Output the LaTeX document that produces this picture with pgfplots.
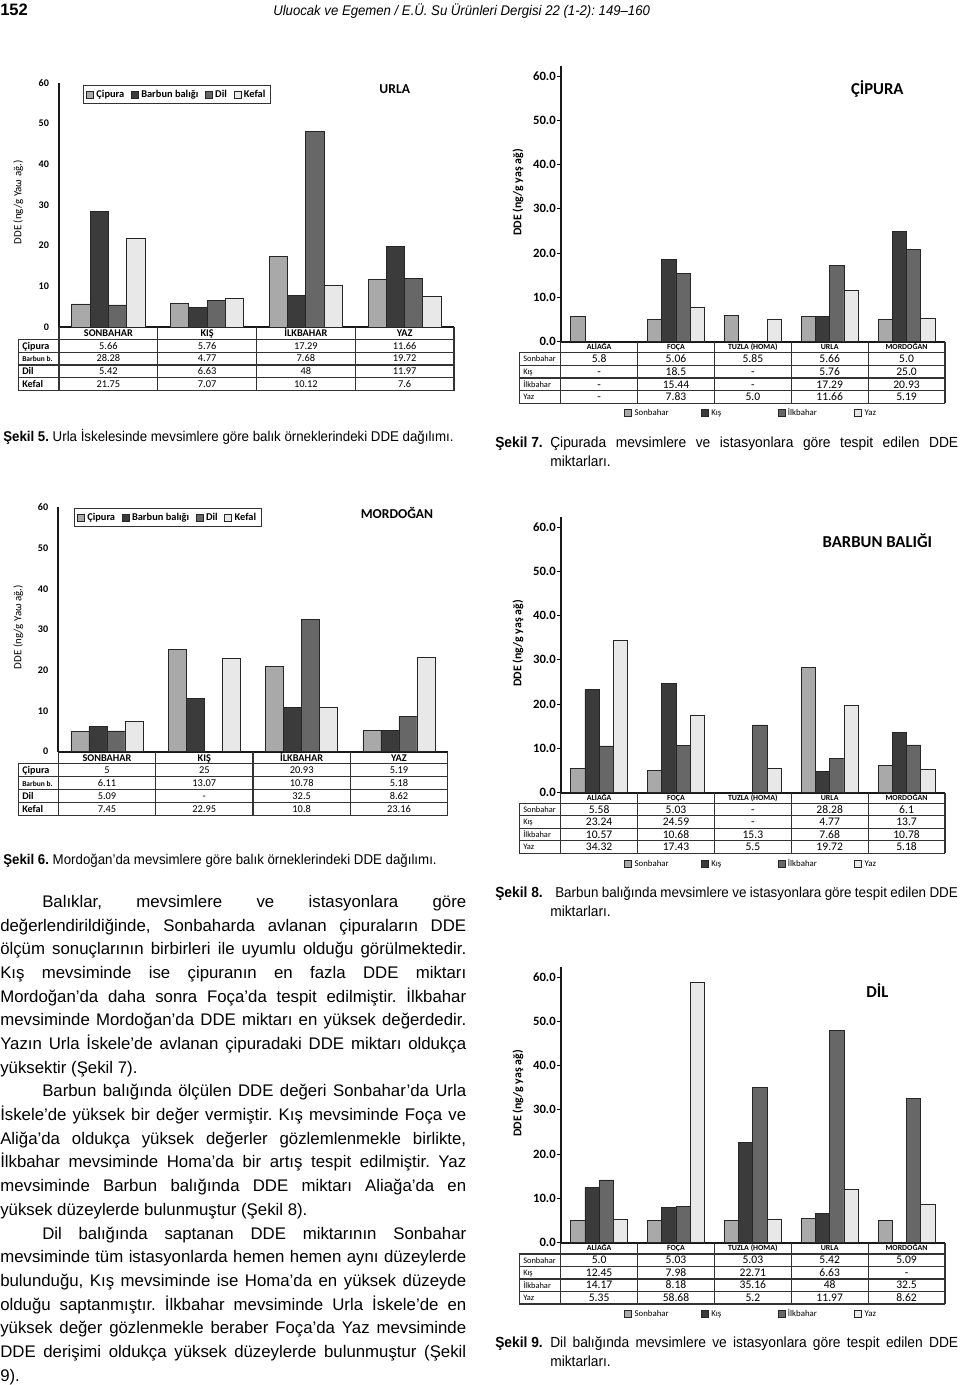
\documentclass[border=0pt]{standalone}
\usepackage{pgfplots}
\usepackage{pgfplotstable}
\pgfplotsset{compat=1.18}
\usepackage{fontspec}
\setmainfont{Liberation Sans}
\newfontfamily\bodyfont{Liberation Sans}
\newfontfamily\capfont[FakeStretch=0.94]{Liberation Sans}
\newfontfamily\cf{Carlito}
\newcommand\fs[1]{\fontsize{#1}{#1}\selectfont}
\frenchspacing
\definecolor{cA}{HTML}{A9A9A9}
\definecolor{cB}{HTML}{3B3B3B}
\definecolor{cC}{HTML}{676767}
\definecolor{cD}{HTML}{E8E8E8}
\tikzset{tbl/.style={draw=black!80, line width=0.8pt}}

% URLA (seasons x fish)
\pgfplotstableread{
x A B C D
0 5.66 28.28 5.42 21.75
1 5.76 4.77 6.63 7.07
2 17.29 7.68 48 10.12
3 11.66 19.72 11.97 7.6
}\urla
% MORDOGAN
\pgfplotstableread{
x A B C D
0 5 6.11 5.09 7.45
1 25 13.07 nan 22.95
2 20.93 10.78 32.5 10.8
3 5.19 5.18 8.62 23.16
}\mord
% CIPURA (stations x seasons)
\pgfplotstableread{
x A B C D
0 5.8 nan nan nan
1 5.06 18.5 15.44 7.83
2 5.85 nan nan 5.0
3 5.66 5.76 17.29 11.66
4 5.0 25.0 20.93 5.19
}\cip
% BARBUN
\pgfplotstableread{
x A B C D
0 5.58 23.24 10.57 34.32
1 5.03 24.59 10.68 17.43
2 nan nan 15.3 5.5
3 28.28 4.77 7.68 19.72
4 6.1 13.7 10.78 5.18
}\barb
% DIL
\pgfplotstableread{
x A B C D
0 5.0 12.45 14.17 5.35
1 5.03 7.98 8.18 58.68
2 5.03 22.71 35.16 5.2
3 5.42 6.63 48 11.97
4 5.09 nan 32.5 8.62
}\dil

\newcommand\lgw[1]{\makebox[47.8pt][l]{#1}}

\pgfplotsset{
  /pgf/number format/assume math mode=true,
  dde/.style={
    ybar=0pt, bar width=0.185, ymin=0,
    scale only axis, clip=false,
    axis x line=bottom, axis y line=left,
    axis line style={line width=1.4pt, black!90, -},
    xtick style={draw=none},
    ytick={0,10,...,60},
    cycle list={{fill=cA,draw=black!85,line width=0.6pt},
                {fill=cB,draw=black!85,line width=0.6pt},
                {fill=cC,draw=black!85,line width=0.6pt},
                {fill=cD,draw=black!85,line width=0.6pt}},
    legend image code/.code={\draw[#1,line width=0.5pt] (0pt,-2.6pt) rectangle (5.2pt,2.6pt);},
    every axis title shift=0pt,
    title style={anchor=center, yshift=0pt},
  },
  ddeL/.style={
    xmin=-0.5, xmax=3.5, ymax=60, xtick={0,1,2,3},
    xticklabels={SONBAHAR,KIŞ,İLKBAHAR,YAZ},
    xticklabel style={font=\cf\bfseries\fs{7.7}, anchor=base, yshift=-5.0pt},
    ytick style={draw=none},
    yticklabel style={font=\cf\bfseries\fs{7.6}, inner sep=0pt, xshift=-5.2pt},
    ylabel={DDE (ng/g Yaω ağ.)},
    ylabel style={font=\cf\fs{8.2}, anchor=center},
    legend columns=4,
    legend style={anchor=north west, draw=black!80, line width=0.7pt,
      font=\cf\bfseries\fs{7.8}, inner xsep=2pt, inner ysep=1.3pt,
      /tikz/every even column/.append style={column sep=3pt}},
    legend cell align=left,
    title style={font=\cf\bfseries\fs{10.2}},
  },
  ddeR/.style={
    width=288.2pt, height=206.9pt,
    xmin=-0.5, xmax=4.5, ymax=62.3, xtick={0,1,2,3,4},
    xticklabels={ALİAĞA,FOÇA,TUZLA (HOMA),URLA,MORDOĞAN},
    xticklabel style={font=\cf\bfseries\fs{5.9}, anchor=base, yshift=-3.0pt},
    tick align=outside, major tick length=3pt,
    ytick style={black, line width=0.7pt},
    yticklabel style={font=\cf\bfseries\fs{9.5}, inner sep=0.5pt,
      /pgf/number format/.cd, fixed, fixed zerofill, precision=1},
    ylabel={DDE (ng/g yaş ağ)},
    ylabel style={font=\cf\bfseries\fs{8.9}, anchor=center,
      at={(axis description cs:-0.111,0.541)}},
    legend columns=4,
    legend style={at={(axis description cs:0.165,-0.232)}, anchor=north west,
      draw=none, fill=none, font=\cf\fs{6.6}, inner sep=0pt},
    legend cell align=left,
    title style={font=\cf\bfseries\fs{12.5}, at={(axis description cs:0.824,0.915)}},
  },
}

\newcommand\grid[7]{% L A R n y0 h b
  \pgfmathsetmacro\cw{(#3-#2)/#4}
  \pgfmathsetmacro\rh{(#7-#6)/4}
  \pgfmathtruncatemacro\nm{#4-1}
  \draw[tbl] (#1,#6) -- (#3,#6) (#1,#7) -- (#3,#7) (#1,#6) -- (#1,#7);
  \draw[tbl] (#2,#5) -- (#2,#7) (#3,#5) -- (#3,#7);
  \foreach \k in {1,...,\nm}{\draw[tbl] ({#2+\k*\cw},#5) -- ({#2+\k*\cw},#7);}
  \foreach \k in {1,2,3}{\draw[tbl] (#1,{#6+\k*\rh}) -- (#3,{#6+\k*\rh});}
}
\newcommand\cells[8]{% A R n h b font baseline-offset rows
  \pgfmathsetmacro\cw{(#2-#1)/#3}
  \pgfmathsetmacro\rh{(#5-#4)/4}
  \foreach \row [count=\j] in {#8}{
    \foreach \v [count=\i] in \row {
      \node[anchor=base, inner sep=0pt, font=#6] at ({#1+(\i-0.5)*\cw},{#4+(\j-0.5)*\rh+#7}) {\v};
    }
  }
}
\newcommand\rowlabels[6]{% x h b font offset {labels}
  \pgfmathsetmacro\rh{(#3-#2)/4}
  \foreach \t [count=\j] in {#6}{
    \node[anchor=base west, inner sep=0pt, font=#4] at (#1,{#2+(\j-0.5)*\rh+#5}) {\t};
  }
}
\newcommand\jline[4]{\node[anchor=base west, inner sep=0pt, font=\bodyfont\fontsize{12.6}{15}\selectfont] at (#1,{907.5+23.68*#2}) {\makebox[#3][s]{#4}};}
\newcommand\lline[3]{\node[anchor=base west, inner sep=0pt, font=\bodyfont\fontsize{12.6}{15}\selectfont] at (#1,{907.5+23.68*#2}) {#3};}

\begin{document}
\begin{tikzpicture}
\begin{scope}[x=0.75pt,y=-0.75pt]
\coordinate (oU) at (59,327);
\coordinate (oM) at (58.3,751.7);
\coordinate (oC) at (560.7,341.7);
\coordinate (oB) at (560.7,792.7);
\coordinate (oD) at (560.7,1242.7);
\end{scope}

% ---------- URLA ----------
\begin{axis}[dde, ddeL, at={(oU)}, anchor=south west, width=296.25pt, height=183.2pt,
  ylabel style={at={(axis description cs:-0.103,0.51)}},
  title={URLA}, title style={at={(axis description cs:0.85,0.974)}},
  legend style={at={(axis description cs:0.061,0.99)}}]
\addplot table[x=x,y=A]{\urla};
\addplot table[x=x,y=B]{\urla};
\addplot table[x=x,y=C]{\urla};
\addplot table[x=x,y=D]{\urla};
\legend{Çipura,Barbun balığı,Dil,Kefal}
\end{axis}

% ---------- MORDOGAN ----------
\begin{axis}[dde, ddeL, at={(oM)}, anchor=south west, width=292pt, height=183.3pt,
  ylabel style={at={(axis description cs:-0.103,0.51)}},
  title={MORDOĞAN}, title style={at={(axis description cs:0.87,0.975)}},
  legend style={at={(axis description cs:0.04,0.996)}}]
\addplot table[x=x,y=A]{\mord};
\addplot table[x=x,y=B]{\mord};
\addplot table[x=x,y=C]{\mord};
\addplot table[x=x,y=D]{\mord};
\legend{Çipura,Barbun balığı,Dil,Kefal}
\end{axis}

% ---------- CIPURA ----------
\begin{axis}[dde, ddeR, at={(oC)}, anchor=south west, title={ÇİPURA}]
\addplot table[x=x,y=A]{\cip};
\addplot table[x=x,y=B]{\cip};
\addplot table[x=x,y=C]{\cip};
\addplot table[x=x,y=D]{\cip};
\legend{\lgw{Sonbahar},\lgw{Kış},\lgw{İlkbahar},\lgw{Yaz}}
\end{axis}

% ---------- BARBUN ----------
\begin{axis}[dde, ddeR, at={(oB)}, anchor=south west, title={BARBUN BALIĞI}]
\addplot table[x=x,y=A]{\barb};
\addplot table[x=x,y=B]{\barb};
\addplot table[x=x,y=C]{\barb};
\addplot table[x=x,y=D]{\barb};
\legend{\lgw{Sonbahar},\lgw{Kış},\lgw{İlkbahar},\lgw{Yaz}}
\end{axis}

% ---------- DIL ----------
\begin{axis}[dde, ddeR, at={(oD)}, anchor=south west, title={DİL}]
\addplot table[x=x,y=A]{\dil};
\addplot table[x=x,y=B]{\dil};
\addplot table[x=x,y=C]{\dil};
\addplot table[x=x,y=D]{\dil};
\legend{\lgw{Sonbahar},\lgw{Kış},\lgw{İlkbahar},\lgw{Yaz}}
\end{axis}

\begin{scope}[x=0.75pt,y=-0.75pt]
% tables
\grid{18.3}{59}{454}{4}{327}{339.3}{390.7}
\cells{59}{454}{4}{339.3}{390.7}{\cf\fs{7.8}}{3.4}{{5.66,5.76,17.29,11.66},{28.28,4.77,7.68,19.72},{5.42,6.63,48,11.97},{21.75,7.07,10.12,7.6}}
\rowlabels{22}{339.3}{390.7}{\cf\bfseries\fs{7.6}}{3.3}{Çipura,{\fs{5.6}Barbun b.},Dil,Kefal}

\grid{18.3}{58.3}{447.7}{4}{751.7}{763.7}{815.7}
\cells{58.3}{447.7}{4}{763.7}{815.7}{\cf\fs{7.8}}{3.4}{{5,25,20.93,5.19},{6.11,13.07,10.78,5.18},{5.09,-,32.5,8.62},{7.45,22.95,10.8,23.16}}
\rowlabels{22}{763.7}{815.7}{\cf\bfseries\fs{7.6}}{3.3}{Çipura,{\fs{5.6}Barbun b.},Dil,Kefal}

\grid{519.3}{560.7}{945}{5}{341.7}{352.7}{403.3}
\cells{560.7}{945}{5}{352.7}{403.3}{\cf\fs{8.7}}{3.7}{{5.8,5.06,5.85,5.66,5.0},{-,18.5,-,5.76,25.0},{-,15.44,-,17.29,20.93},{-,7.83,5.0,11.66,5.19}}
\rowlabels{523}{352.7}{403.3}{\cf\fs{6.3}}{2.8}{Sonbahar,Kış,İlkbahar,Yaz}

\grid{519.3}{560.7}{945}{5}{792.7}{803.3}{853.3}
\cells{560.7}{945}{5}{803.3}{853.3}{\cf\fs{8.7}}{3.7}{{5.58,5.03,-,28.28,6.1},{23.24,24.59,-,4.77,13.7},{10.57,10.68,15.3,7.68,10.78},{34.32,17.43,5.5,19.72,5.18}}
\rowlabels{523}{803.3}{853.3}{\cf\fs{6.3}}{2.8}{Sonbahar,Kış,İlkbahar,Yaz}

\grid{519.3}{560.7}{945}{5}{1242.7}{1254}{1304}
\cells{560.7}{945}{5}{1254}{1304}{\cf\fs{8.7}}{3.7}{{5.0,5.03,5.03,5.42,5.09},{12.45,7.98,22.71,6.63,-},{14.17,8.18,35.16,48,32.5},{5.35,58.68,5.2,11.97,8.62}}
\rowlabels{523}{1254}{1304}{\cf\fs{6.3}}{2.8}{Sonbahar,Kış,İlkbahar,Yaz}

% header
\node[anchor=base west, inner sep=0pt, font=\bodyfont\bfseries\fs{12.4}] at (0,15) {152};
\node[anchor=base west, inner sep=0pt, font=\capfont\itshape\fs{10.5}] at (273,15) {Uluocak ve Egemen / E.Ü. Su Ürünleri Dergisi 22 (1-2): 149–160};

% captions
\node[anchor=base west, inner sep=0pt, font=\capfont\fs{10.6}] at (3,441) {\textbf{Şekil 5.} Urla İskelesinde mevsimlere göre balık örneklerindeki DDE dağılımı.};
\node[anchor=base west, inner sep=0pt, font=\capfont\fs{10.6}] at (3,864) {\textbf{Şekil 6.} Mordoğan’da mevsimlere göre balık örneklerindeki DDE dağılımı.};

\node[anchor=base west, inner sep=0pt, font=\capfont\fs{11}] at (495,447) {\textbf{Şekil 7.}};
\node[anchor=base west, inner sep=0pt, font=\capfont\fs{11}] at (550,447) {\makebox[306pt][s]{Çipurada mevsimlere ve istasyonlara göre tespit edilen DDE}};
\node[anchor=base west, inner sep=0pt, font=\capfont\fs{11}] at (550,466) {miktarları.};

\node[anchor=base west, inner sep=0pt, font=\capfont\fs{11}] at (495,897) {\textbf{Şekil 8.}};
\node[anchor=base west, inner sep=0pt, font=\capfont\fs{10.7}] at (555,897) {\makebox[302pt][s]{Barbun balığında mevsimlere ve istasyonlara göre tespit edilen DDE}};
\node[anchor=base west, inner sep=0pt, font=\capfont\fs{11}] at (550,916) {miktarları.};

\node[anchor=base west, inner sep=0pt, font=\capfont\fs{11}] at (495,1347) {\textbf{Şekil 9.}};
\node[anchor=base west, inner sep=0pt, font=\capfont\fs{11}] at (550,1347) {\makebox[306pt][s]{Dil balığında mevsimlere ve istasyonlara göre tespit edilen DDE}};
\node[anchor=base west, inner sep=0pt, font=\capfont\fs{11}] at (550,1366) {miktarları.};

% body text
\jline{42}{0}{318pt}{Balıklar, mevsimlere ve istasyonlara göre}
\jline{0}{1}{349.5pt}{değerlendirildiğinde, Sonbaharda avlanan çipuraların DDE}
\jline{0}{2}{349.5pt}{ölçüm sonuçlarının birbirleri ile uyumlu olduğu görülmektedir.}
\jline{0}{3}{349.5pt}{Kış mevsiminde ise çipuranın en fazla DDE miktarı}
\jline{0}{4}{349.5pt}{Mordoğan’da daha sonra Foça’da tespit edilmiştir. İlkbahar}
\jline{0}{5}{349.5pt}{mevsiminde Mordoğan’da DDE miktarı en yüksek değerdedir.}
\jline{0}{6}{349.5pt}{Yazın Urla İskele’de avlanan çipuradaki DDE miktarı oldukça}
\lline{0}{7}{yüksektir (Şekil 7).}
\jline{42}{8}{318pt}{Barbun balığında ölçülen DDE değeri Sonbahar’da Urla}
\jline{0}{9}{349.5pt}{İskele’de yüksek bir değer vermiştir. Kış mevsiminde Foça ve}
\jline{0}{10}{349.5pt}{Aliğa’da oldukça yüksek değerler gözlemlenmekle birlikte,}
\jline{0}{11}{349.5pt}{İlkbahar mevsiminde Homa’da bir artış tespit edilmiştir. Yaz}
\jline{0}{12}{349.5pt}{mevsiminde Barbun balığında DDE miktarı Aliağa’da en}
\lline{0}{13}{yüksek düzeylerde bulunmuştur (Şekil 8).}
\jline{42}{14}{318pt}{Dil balığında saptanan DDE miktarının Sonbahar}
\jline{0}{15}{349.5pt}{mevsiminde tüm istasyonlarda hemen hemen aynı düzeylerde}
\jline{0}{16}{349.5pt}{bulunduğu, Kış mevsiminde ise Homa’da en yüksek düzeyde}
\jline{0}{17}{349.5pt}{olduğu saptanmıştır. İlkbahar mevsiminde Urla İskele’de en}
\jline{0}{18}{349.5pt}{yüksek değer gözlenmekle beraber Foça’da Yaz mevsiminde}
\jline{0}{19}{349.5pt}{DDE derişimi oldukça yüksek düzeylerde bulunmuştur (Şekil}
\lline{0}{20}{9).}
\end{scope}

\pgfresetboundingbox
\path[use as bounding box] (0pt,0pt) rectangle (720pt,-1038.75pt);
\end{tikzpicture}
\end{document}
